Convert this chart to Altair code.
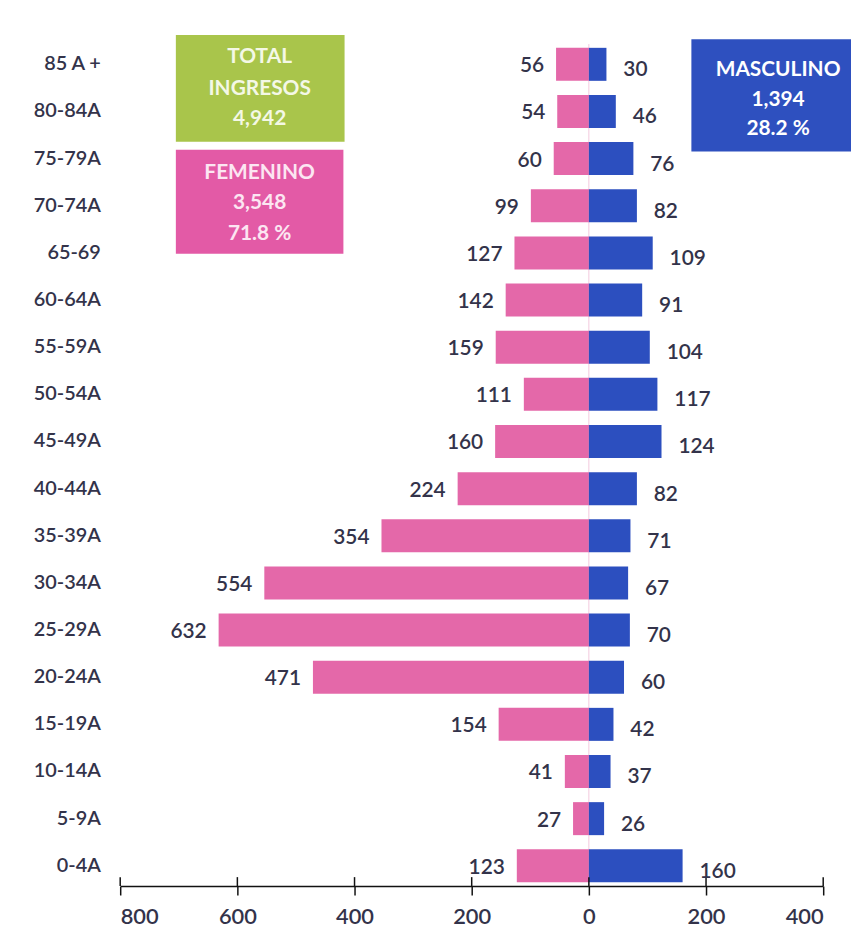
import altair as alt
import pandas as pd

ages = ["85 A +", "80-84A", "75-79A", "70-74A", "65-69", "60-64A", "55-59A",
        "50-54A", "45-49A", "40-44A", "35-39A", "30-34A", "25-29A", "20-24A",
        "15-19A", "10-14A", "5-9A", "0-4A"]
fem = [56, 54, 60, 99, 127, 142, 159, 111, 160, 224, 354, 554, 632, 471, 154, 41, 27, 123]
masc = [30, 46, 76, 82, 109, 91, 104, 117, 124, 82, 71, 67, 70, 60, 42, 37, 26, 160]
ticks = [-800, -600, -400, -200, 0, 200, 400]

box_names = ["total", "fem", "masc"]
box_x1 = [-705, -705, 175]
box_x2 = [-417, -419, 480]
box_y1 = [-0.19, 2.24, -0.10]
box_y2 = [2.07, 4.45, 2.28]
box_colors = ["#A9C54B", "#E35AA6", "#2E50BF"]

txt_lines = ["TOTAL", "INGRESOS", "4,942", "FEMENINO", "3,548", "71.8 %",
             "MASCULINO", "1,394", "28.2 %"]
txt_x = [-562, -562, -562, -562, -562, -562, 323, 323, 323]
txt_y = [0.27, 0.95, 1.58, 2.74, 3.38, 4.03, 0.55, 1.18, 1.81]
txt_colors = ["#F4F8E6", "#F4F8E6", "#F4F8E6", "#FCE6F2", "#FCE6F2", "#FCE6F2",
              "#FFFFFF", "#FFFFFF", "#FFFFFF"]

W, H = 708, 848
FONT = "Lato"
TXT = "#33334a"

rows = []
for a, f, m in zip(ages, fem, masc):
    rows.append({"age": a, "sexo": "Femenino", "val": -f, "lab": f, "zero": 0})
    rows.append({"age": a, "sexo": "Masculino", "val": m, "lab": m, "zero": 0})
df = pd.DataFrame(rows)

xscale = alt.Scale(domain=[-800, 400], nice=False, zero=False)
yscale = alt.Scale(domain=ages, paddingInner=0.3, paddingOuter=0.08)

xaxis = alt.Axis(values=ticks, labelExpr="abs(datum.value)", title=None,
                 grid=False, domainColor="#111111", domainWidth=1.5,
                 tickColor="#111111", tickWidth=1.5, tickSize=9,
                 labelFontSize=22, labelFont=FONT, labelColor=TXT,
                 labelPadding=12, labelFontWeight=600)

zero_line = alt.Chart(pd.DataFrame({"z": [0]})).mark_rule(
    color="#F3C9DE", strokeWidth=1
).encode(x=alt.X("z:Q", scale=xscale, axis=xaxis))

bars = alt.Chart(df).mark_bar().encode(
    x=alt.X("val:Q", scale=xscale, axis=xaxis),
    x2="zero:Q",
    y=alt.Y("age:N", scale=yscale, sort=ages,
            axis=alt.Axis(title=None, ticks=False, domain=False, labelPadding=20,
                          labelFontSize=20, labelFont=FONT, labelColor=TXT,
                          labelFontWeight=600)),
    color=alt.Color("sexo:N", scale=alt.Scale(domain=["Femenino", "Masculino"],
                                              range=["#E468A9", "#2C4FBF"]),
                    legend=None),
)

up_ticks = alt.Chart(pd.DataFrame({"t": ticks})).mark_rule(
    color="#111111", strokeWidth=1.5
).encode(x=alt.X("t:Q", scale=xscale, axis=xaxis), y=alt.value(H - 9), y2=alt.value(H))

lab_f = alt.Chart(df).transform_filter("datum.sexo == 'Femenino'").mark_text(
    align="right", baseline="middle", dx=-12, dy=2, fontSize=21, font=FONT,
    fontWeight=600, color=TXT
).encode(x=alt.X("val:Q", scale=xscale, axis=xaxis),
         y=alt.Y("age:N", scale=yscale, sort=ages),
         text="lab:Q")

lab_m = alt.Chart(df).transform_filter("datum.sexo == 'Masculino'").mark_text(
    align="left", baseline="middle", dx=17, dy=6, fontSize=21, font=FONT,
    fontWeight=600, color=TXT
).encode(x=alt.X("val:Q", scale=xscale, axis=xaxis),
         y=alt.Y("age:N", scale=yscale, sort=ages),
         text="lab:Q")

main = alt.layer(zero_line, bars, up_ticks, lab_f, lab_m)

ascale = alt.Scale(domain=[0, 17.86], reverse=True, nice=False, zero=False)
boxes = pd.DataFrame({"name": box_names, "x1": box_x1, "x2": box_x2,
                      "y1": box_y1, "y2": box_y2, "c": box_colors})
texts = pd.DataFrame({"t": txt_lines, "x": txt_x, "y": txt_y, "c": txt_colors})

box_layer = alt.Chart(boxes).mark_rect().encode(
    x=alt.X("x1:Q", scale=xscale, axis=xaxis), x2="x2:Q",
    y=alt.Y("y1:Q", scale=ascale, axis=None), y2="y2:Q",
    color=alt.Color("c:N", scale=None),
)
text_layer = alt.Chart(texts).mark_text(
    align="center", baseline="middle", fontSize=21, font=FONT, fontWeight="bold"
).encode(
    x=alt.X("x:Q", scale=xscale, axis=xaxis),
    y=alt.Y("y:Q", scale=ascale, axis=None),
    text="t:N",
    color=alt.Color("c:N", scale=None),
)
annot = alt.layer(box_layer, text_layer)

chart = alt.layer(main, annot).resolve_scale(y="independent", color="independent").properties(
    width=W, height=H,
    autosize=alt.AutoSizeParams(type="none"),
    padding={"left": 113, "top": 33, "right": 28, "bottom": 50},
    background="white",
).configure_view(stroke=None)

chart.save("out.html", embed_options={"renderer": "svg", "actions": False})
